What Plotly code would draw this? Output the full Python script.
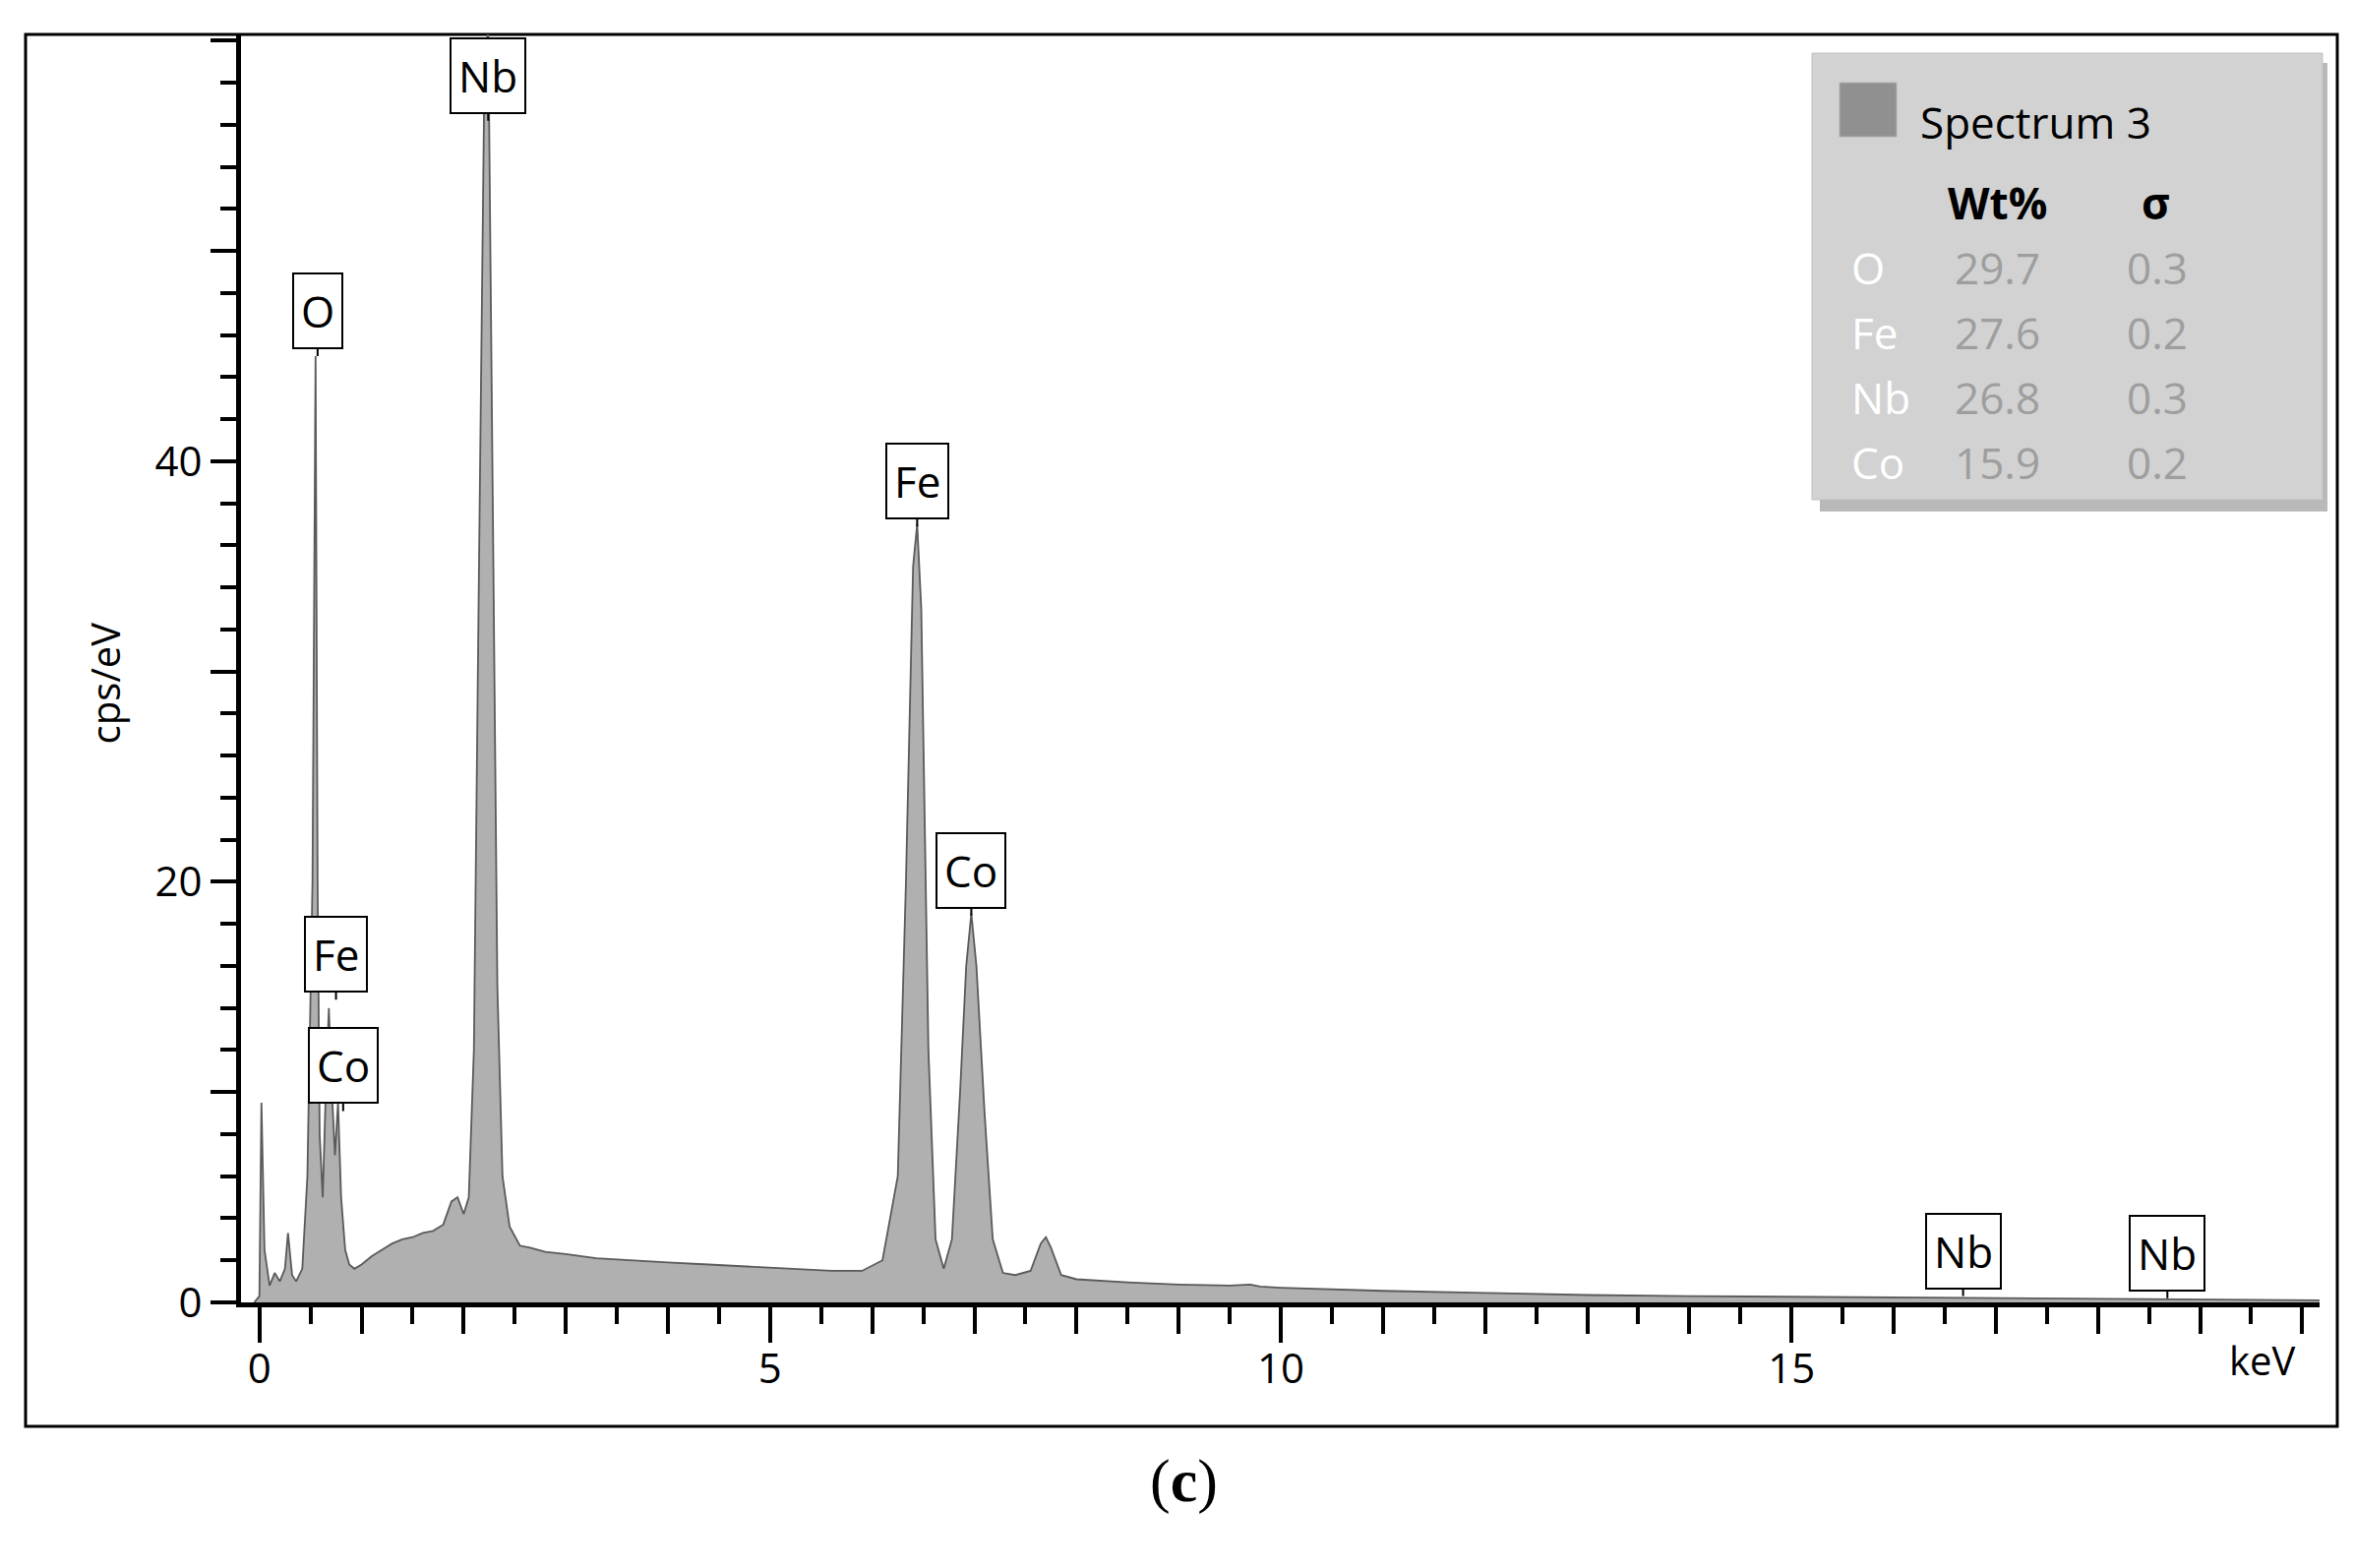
import plotly.graph_objects as go

# EDS spectrum (keV, cps/eV)
energy = [-0.05, 0.0, 0.02, 0.05, 0.1, 0.15, 0.2, 0.25, 0.28, 0.32, 0.36, 0.42, 0.47, 0.52, 0.55, 0.57,
          0.59, 0.62, 0.65, 0.68, 0.71, 0.74, 0.77, 0.8, 0.84, 0.88, 0.93, 1.0, 1.1, 1.2, 1.3, 1.4, 1.5,
          1.6, 1.7, 1.8, 1.88, 1.94, 2.0, 2.05, 2.1, 2.15, 2.2, 2.24, 2.28, 2.33, 2.38, 2.45, 2.55, 2.65,
          2.8, 3.0, 3.3, 3.6, 4.0, 4.4, 4.8, 5.2, 5.6, 5.9, 6.1, 6.25, 6.33, 6.4, 6.44, 6.48, 6.55,
          6.62, 6.7, 6.78, 6.86, 6.92, 6.97, 7.02, 7.1, 7.18, 7.28, 7.4, 7.55, 7.65, 7.7, 7.75, 7.85,
          8.0, 8.5, 9.0, 9.5, 9.7, 9.8, 10.0, 11.0, 12.0, 13.0, 14.0, 15.0, 16.0, 17.0, 18.0, 19.0, 20.2]
counts = [0.0, 0.3, 9.5, 2.5, 0.8, 1.4, 1.0, 1.6, 3.3, 1.3, 1.0, 1.6, 6.0, 20.0, 45.0, 20.0,
          8.0, 5.0, 10.0, 14.0, 10.0, 7.0, 9.5, 5.0, 2.5, 1.8, 1.6, 1.8, 2.2, 2.5, 2.8, 3.0, 3.1,
          3.3, 3.4, 3.7, 4.8, 5.0, 4.2, 5.0, 12.0, 35.0, 57.0, 61.0, 40.0, 15.0, 6.0, 3.6, 2.7, 2.6,
          2.4, 2.3, 2.1, 2.0, 1.9, 1.8, 1.7, 1.6, 1.5, 1.5, 2.0, 6.0, 20.0, 35.0, 37.0, 33.0, 12.0,
          3.0, 1.6, 3.0, 10.0, 16.0, 18.5, 16.0, 9.0, 3.0, 1.4, 1.3, 1.5, 2.8, 3.1, 2.6, 1.3,
          1.1, 0.95, 0.85, 0.8, 0.85, 0.75, 0.7, 0.55, 0.45, 0.35, 0.3, 0.27, 0.22, 0.18, 0.15, 0.12, 0.1]

# peak labels: element, keV, peak tip (cps/eV)
peak_names = ["Nb", "O", "Fe", "Co", "Fe", "Co", "Nb", "Nb"]
peak_kev = [2.24, 0.57, 0.75, 0.82, 6.44, 6.97, 16.68, 18.68]
peak_tip = [56.2, 45.0, 14.4, 9.1, 36.9, 18.4, 0.3, 0.2]

# quantification table
elements = ["O", "Fe", "Nb", "Co"]
wt_pct = ["29.7", "27.6", "26.8", "15.9"]
sigma = ["0.3", "0.2", "0.3", "0.2"]

W, H = 2393, 1594
L, R, T, B = 237, 43, 27, 278
pw, ph = W - L - R, H - T - B
FONT = "Open Sans"


def px(x):
    return (x - L) / pw


def py(y):
    return (H - B - y) / ph


fig = go.Figure()
fig.add_trace(go.Scatter(x=energy, y=counts, mode="lines", fill="tozeroy",
                         fillcolor="#b0b0b0", line=dict(color="#5a5a5a", width=1.8),
                         showlegend=False, hoverinfo="skip"))
# helper axis for the long ticks at every 5 keV
fig.add_trace(go.Scatter(x=[0], y=[0], xaxis="x2", mode="markers", marker=dict(opacity=0),
                         showlegend=False, hoverinfo="skip"))

for name, xk, yt in zip(peak_names, peak_kev, peak_tip):
    fig.add_annotation(x=xk, y=yt, text=name, showarrow=True, arrowhead=0, arrowwidth=2,
                       arrowcolor="black", ax=0, ay=-46, standoff=0,
                       bgcolor="white", bordercolor="black", borderwidth=2, borderpad=7,
                       font=dict(family=FONT, size=44, color="black"))

fig.add_annotation(x=px(2327), y=py(1404), xref="paper", yref="paper", text="keV", showarrow=False,
                   font=dict(family=FONT, size=40, color="black"))
fig.add_annotation(x=px(69), y=py(687), xref="paper", yref="paper", text="cps/eV", showarrow=False,
                   textangle=-90, font=dict(family=FONT, size=40, color="black"))
fig.add_annotation(x=px(1195), y=py(1534), xref="paper", yref="paper",
                   text="(<b>c</b>)", showarrow=False,
                   font=dict(family="Liberation Serif", size=62, color="black"))

# outer frame
fig.add_shape(type="rect", xref="paper", yref="paper", x0=px(18), x1=px(2368), y0=py(1442), y1=py(27),
              line=dict(color="black", width=3), layer="below")

# legend box with shadow
fig.add_shape(type="rect", xref="paper", yref="paper", x0=px(1842), x1=px(2358), y0=py(512), y1=py(56),
              line=dict(width=0), fillcolor="#8a8a8a", opacity=0.6)
fig.add_shape(type="rect", xref="paper", yref="paper", x0=px(1834), x1=px(2353), y0=py(500), y1=py(46),
              line=dict(color="#c0c0c0", width=1), fillcolor="#d2d2d2")
fig.add_shape(type="rect", xref="paper", yref="paper", x0=px(1862), x1=px(1920), y0=py(131), y1=py(76),
              line=dict(color="#b0b0b0", width=1), fillcolor="#909090")
fig.add_annotation(x=px(1942), y=py(84), xref="paper", yref="paper", text="Spectrum 3",
                   xanchor="left", showarrow=False, font=dict(family=FONT, size=44, color="black"))
fig.add_annotation(x=px(2075), y=py(166), xref="paper", yref="paper", text="<b>Wt%</b>",
                   showarrow=False, font=dict(family=FONT, size=44, color="black"))
fig.add_annotation(x=px(2200), y=py(166), xref="paper", yref="paper", text="<b>σ</b>",
                   showarrow=False, font=dict(family=FONT, size=44, color="black"))
for i, (el, w, s) in enumerate(zip(elements, wt_pct, sigma)):
    yy = py(232 + i * 66)
    fig.add_annotation(x=px(1872), y=yy, xref="paper", yref="paper", text=el, xanchor="left",
                       showarrow=False, font=dict(family=FONT, size=44, color="white"))
    fig.add_annotation(x=px(2068), y=yy, xref="paper", yref="paper", text=w,
                       showarrow=False, font=dict(family=FONT, size=44, color="#9e9e9e"))
    fig.add_annotation(x=px(2218), y=yy, xref="paper", yref="paper", text=s,
                       showarrow=False, font=dict(family=FONT, size=44, color="#9e9e9e"))

xrange = [-0.18, 20.17]
fig.update_layout(
    width=W, height=H, margin=dict(l=L, r=R, t=T, b=B),
    paper_bgcolor="white", plot_bgcolor="white",
    font=dict(family=FONT, size=40, color="black"),
    xaxis=dict(range=xrange, showgrid=False, zeroline=False, showline=True, linecolor="black",
               linewidth=5, ticks="outside", tickwidth=4, ticklen=27, tickcolor="black",
               tickvals=list(range(0, 21)),
               ticktext=[str(v) if v % 5 == 0 and v < 20 else "" for v in range(0, 21)],
               tickfont=dict(size=42), minor=dict(dtick=0.5, tick0=0, ticks="outside", ticklen=17,
                                                 tickwidth=4, tickcolor="black")),
    xaxis2=dict(range=xrange, overlaying="x", side="bottom", showgrid=False, zeroline=False,
                showline=False, ticks="outside", ticklen=40, tickwidth=4, tickcolor="black",
                tickvals=[0, 5, 10, 15], showticklabels=False),
    yaxis=dict(range=[0, 60.3], showgrid=False, zeroline=False, showline=True, linecolor="black",
               linewidth=5, ticks="outside", tickwidth=4, ticklen=26, tickcolor="black",
               tickvals=[0, 10, 20, 30, 40, 50, 60], ticktext=["0", "", "20", "", "40", "", ""],
               tickfont=dict(size=42),
               minor=dict(dtick=2, tick0=0, ticks="outside", ticklen=16, tickwidth=4, tickcolor="black")),
)

fig.write_html("out.html")
